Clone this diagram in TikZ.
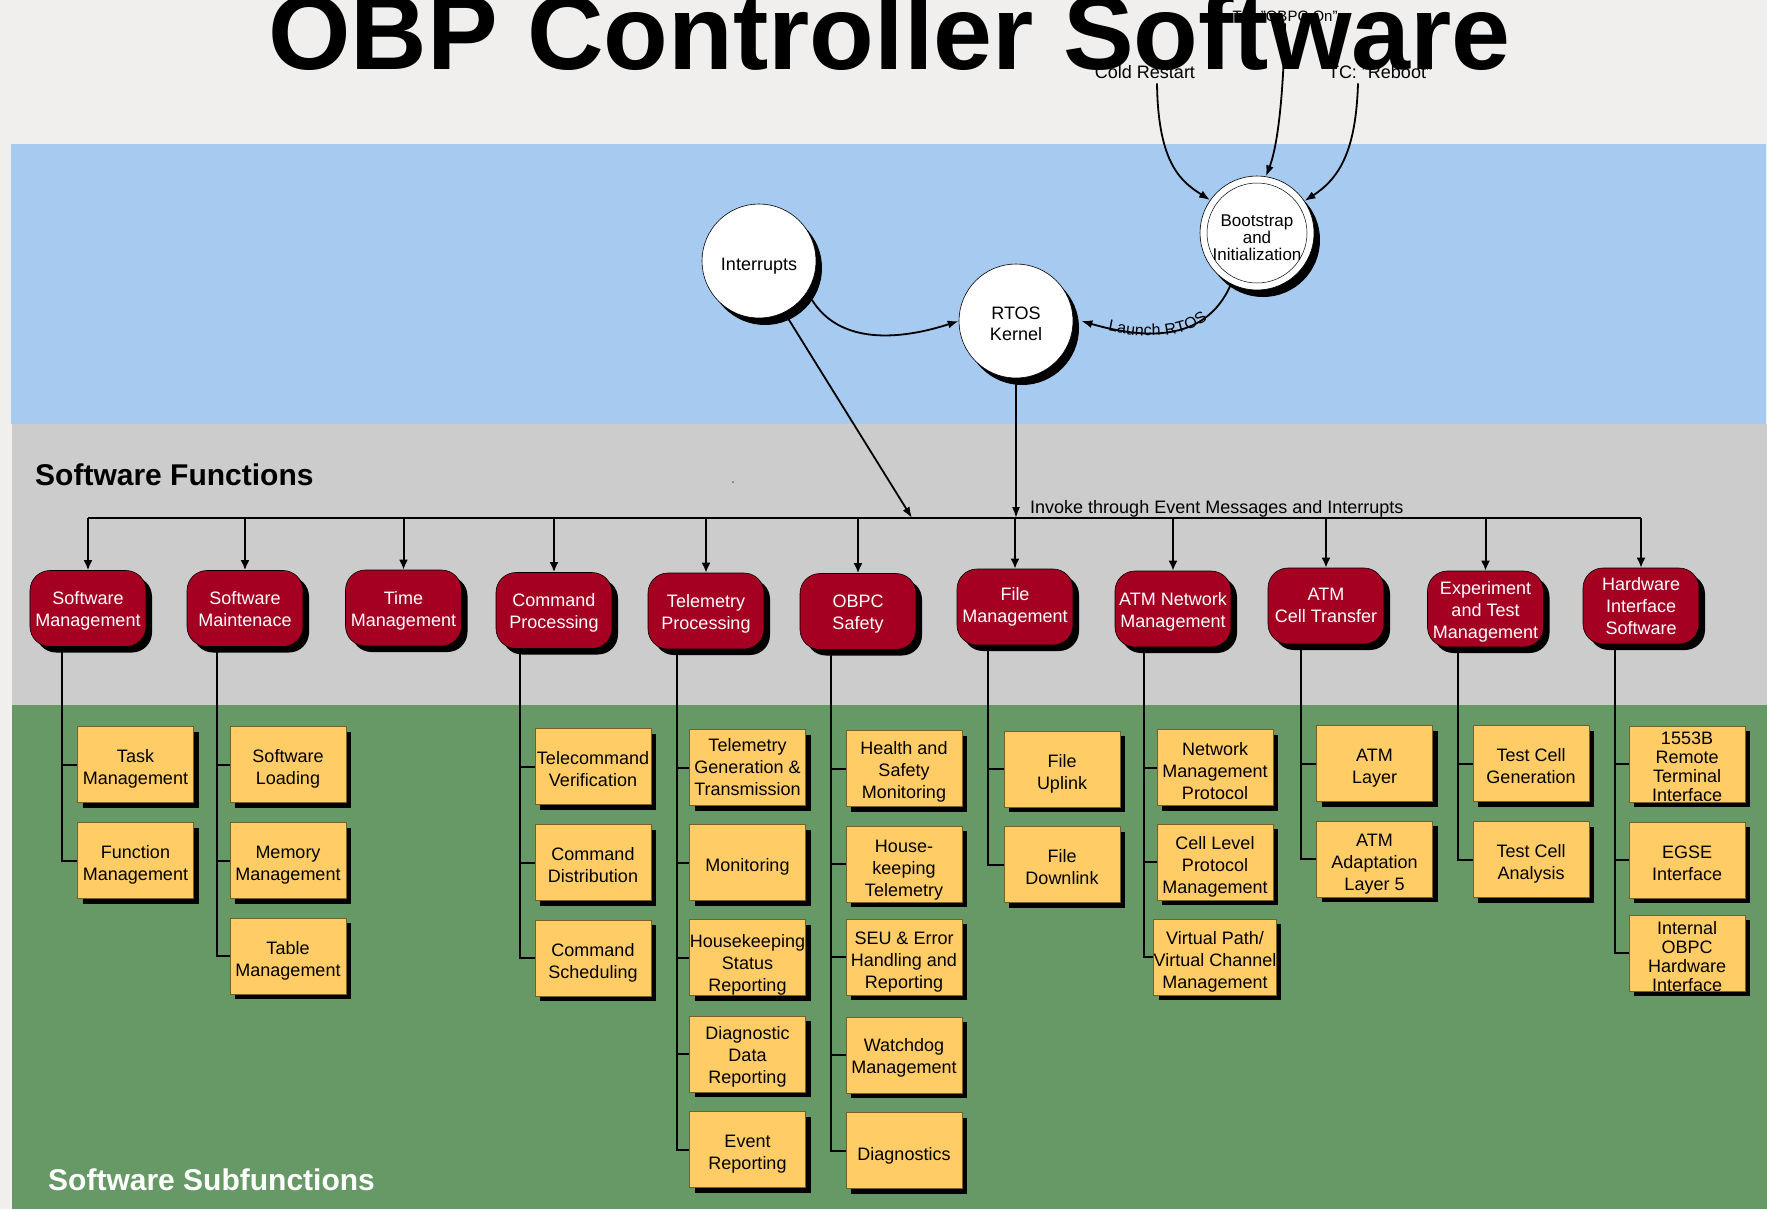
\documentclass[tikz,border=0pt]{standalone}
\usepackage{fontspec}
\setmainfont{Liberation Sans}
\usetikzlibrary{arrows.meta,shadows,decorations.text,calc}

\definecolor{pagebg}{RGB}{240,239,237}
\definecolor{skyband}{RGB}{166,202,240}
\definecolor{funcband}{RGB}{204,204,204}
\definecolor{subband}{RGB}{102,153,102}
\definecolor{funcred}{RGB}{165,0,33}
\definecolor{subyellow}{RGB}{255,204,102}
\definecolor{subedge}{RGB}{120,95,40}

% multi-line box text, lowered a little below the box centre
\newcommand\bxt[2][-9bp]{\raisebox{#1}[0pt][0pt]{\begin{tabular}{@{}c@{}}#2\end{tabular}}}

\tikzset{
  fnt/.style={font=\fontsize{18bp}{22bp}\selectfont},
  fnttight/.style={font=\fontsize{18bp}{18.7bp}\selectfont},
  sect/.style={anchor=base west, inner sep=0pt, font=\fontsize{30bp}{30bp}\selectfont\bfseries},
  funcbox/.style={rectangle, rounded corners=20bp, minimum width=116bp, minimum height=76bp,
    inner sep=0pt, fill=funcred, draw=black, line width=0.6bp, text=white, fnt,
    drop shadow={shadow xshift=6bp, shadow yshift=-6bp, opacity=1, fill=black}},
  subbox/.style={rectangle, minimum width=116bp, minimum height=76bp, inner sep=0pt,
    fill=subyellow, draw=subedge, line width=0.8bp, text=black, fnt,
    drop shadow={shadow xshift=5bp, shadow yshift=-5bp, opacity=1, fill=black}},
  proc/.style={circle, minimum size=114bp, inner sep=0pt, fill=white, draw=black,
    line width=0.6bp, fnt,
    drop shadow={shadow xshift=6bp, shadow yshift=-7bp, opacity=1, fill=black}},
  arr/.style={line width=1.8bp, -{Latex[length=11bp,width=8bp]}},
  drop/.style={line width=2bp, -{Latex[length=10bp,width=9bp]}},
  link/.style={line width=2bp},
  trig/.style={fnt, anchor=base, inner sep=0pt},
}

\begin{document}
\begin{tikzpicture}[x=1bp,y=-1bp]
\useasboundingbox (0,0) rectangle (1767,1209);
\clip (0,0) rectangle (1767,1209);

% background bands
\fill[pagebg] (0,0) rectangle (1767,1209);
\fill[skyband] (11,144) rectangle (1766,424);
\fill[funcband] (12,424) rectangle (1767,705);
\fill[subband] (12,705) rectangle (1767,1209);
\fill[black!60] (733,482) circle[radius=1bp];

\node[sect] (funclabel) at (35,485) {Software Functions};
\node[sect, text=white] (sublabel) at (48,1190) {Software Subfunctions};

% start-up triggers
\node[trig] (cold) at (1145,78) {Cold Restart};
\node[trig, font=\fontsize{15bp}{15bp}\selectfont] (obpcon) at (1285,21) {TC: "OBPC On"};
\node[trig] (reboot) at (1380,78) {TC: "Reboot"};

% title
\node[anchor=base, inner sep=0pt, font=\fontsize{106bp}{106bp}\selectfont\bfseries] (title)
  at (889.5,69) {OBP Controller Software};

% processes
\node[proc] (intr) at (759,261) {\bxt{Interrupts}};
\node[proc, font=\fontsize{18bp}{21bp}\selectfont] (rtos) at (1016,321) {\bxt{RTOS\\Kernel}};
\node[proc, font=\fontsize{17bp}{15bp}\selectfont] (boot) at (1257,233) {\bxt[-11bp]{Bootstrap\\and\\Initialization}};
\draw[line width=0.5bp] (boot.center) circle[radius=50bp];

\draw[arr] ([shift={(12bp,-5bp)}]cold.south) .. controls (1158,165) and (1182,182) .. (boot.145);
\draw[arr] ([yshift=-2bp]obpcon.south) .. controls (1283,110) and (1276,150) .. (boot.81);
\draw[arr] ([shift={(-22bp,-5bp)}]reboot.south) .. controls (1356,150) and (1340,178) .. (boot.34);

\draw[arr] (boot.-117) .. controls (1205,345) and (1140,338) .. ([xshift=8bp]rtos.east);
\path[decorate, decoration={text along path,
    text={|\fontsize{16bp}{16bp}\selectfont|Launch RTOS},
    text align={left indent=28bp}, raise=-3bp}]
  ([xshift=8bp]rtos.east) .. controls (1140,338) and (1205,345) .. (boot.-117);

\draw[arr] ([shift={(6bp,-6bp)}]intr.-35) .. controls (840,345) and (900,340) .. (rtos.west);

% software functions
\node[funcbox] (F1) at (88,608.5) {\bxt[-7bp]{Software\\Management}};
\node[funcbox] (F2) at (245,608.5) {\bxt[-7bp]{Software\\Maintenace}};
\node[funcbox] (F3) at (403.5,608) {\bxt[-7bp]{Time\\Management}};
\node[funcbox] (F4) at (554,610.5) {\bxt[-7bp]{Command\\Processing}};
\node[funcbox] (F5) at (706,611) {\bxt[-7bp]{Telemetry\\Processing}};
\node[funcbox] (F6) at (858,611.5) {\bxt[-7bp]{OBPC\\Safety}};
\node[funcbox] (F7) at (1015,607) {\bxt[-4bp]{File\\Management}};
\node[funcbox] (F8) at (1173,609) {\bxt[-7bp]{ATM Network\\Management}};
\node[funcbox] (F9) at (1326,606) {\bxt[-5bp]{ATM\\Cell Transfer}};
\node[funcbox] (F10) at (1485.5,609) {\bxt[-7bp]{Experiment\\and Test\\Management}};
\node[funcbox] (F11) at (1641,606) {\bxt[-6bp]{Hardware\\Interface\\Software}};

% event bus
\coordinate (busI) at (912,518);
\draw[arr] ([shift={(4bp,-6bp)}]intr.-64) -- (busI);
\draw[arr] ([yshift=-6bp]rtos.south) -- (rtos.south |- busI);
\draw[link] (F1.north |- busI) -- (F11.north |- busI);
\foreach \f in {F1,F2,F3,F4,F5,F6,F7,F8,F9,F10,F11}
  \draw[drop] (\f.north |- busI) -- (\f.north);
\node[fnt, anchor=base west, inner sep=0pt] (invoke) at (1030,513)
  {Invoke through Event Messages and Interrupts};

% software subfunctions
\node[subbox] (S1a) at (135.5,764.5) {\bxt{Task\\Management}};
\node[subbox] (S1b) at (135.5,860.5) {\bxt{Function\\Management}};

\node[subbox] (S2a) at (288,764.5) {\bxt{Software\\Loading}};
\node[subbox] (S2b) at (288,860.5) {\bxt{Memory\\Management}};
\node[subbox] (S2c) at (288,956) {\bxt{Table\\Management}};

\node[subbox] (S4a) at (593,766.5) {\bxt{Telecommand\\Verification}};
\node[subbox] (S4b) at (593,862.5) {\bxt{Command\\Distribution}};
\node[subbox] (S4c) at (593,958) {\bxt{Command\\Scheduling}};

\node[subbox] (S5a) at (747.5,767.5) {\bxt[-6bp]{Telemetry\\Generation \&\\Transmission}};
\node[subbox] (S5b) at (747.5,862.5) {\bxt{Monitoring}};
\node[subbox] (S5c) at (747.5,957.5) {\bxt[-12bp]{Housekeeping\\Status\\Reporting}};
\node[subbox] (S5d) at (747.5,1054) {\bxt[-7.5bp]{Diagnostic\\Data\\Reporting}};
\node[subbox] (S5e) at (747.5,1149.5) {\bxt{Event\\Reporting}};

\node[subbox] (S6a) at (904,768.5) {\bxt[-8bp]{Health and\\Safety\\Monitoring}};
\node[subbox] (S6b) at (904,864) {\bxt[-10.5bp]{House-\\keeping\\Telemetry}};
\node[subbox] (S6c) at (904,957) {\bxt{SEU \& Error\\Handling and\\Reporting}};
\node[subbox] (S6d) at (904,1055) {\bxt[-7.5bp]{Watchdog\\Management}};
\node[subbox] (S6e) at (904,1150.5) {\bxt[-10bp]{Diagnostics}};

\node[subbox] (S7a) at (1062,769) {\bxt{File\\Uplink}};
\node[subbox] (S7b) at (1062,864.5) {\bxt{File\\Downlink}};

\node[subbox] (S8a) at (1215,767.5) {\bxt[-10bp]{Network\\Management\\Protocol}};
\node[subbox] (S8b) at (1215,862) {\bxt{Cell Level\\Protocol\\Management}};
\node[subbox] (S8c) at (1215,957) {\bxt[-9.5bp]{Virtual Path/\\Virtual Channel\\Management}};

\node[subbox] (S9a) at (1374.5,763.5) {\bxt{ATM\\Layer}};
\node[subbox] (S9b) at (1374.5,859) {\bxt{ATM\\Adaptation\\Layer 5}};

\node[subbox] (S10a) at (1531,763.5) {\bxt{Test Cell\\Generation}};
\node[subbox] (S10b) at (1531,859.5) {\bxt{Test Cell\\Analysis}};

\node[subbox, fnttight] (S11a) at (1687,764) {\bxt[-9.5bp]{1553B\\Remote\\Terminal\\Interface}};
\node[subbox] (S11b) at (1687,860) {\bxt{EGSE\\Interface}};
\node[subbox, fnttight] (S11c) at (1687,953) {\bxt[-10.5bp]{Internal\\OBPC\\Hardware\\Interface}};

% tree spines
\foreach \s in {S1a,S1b} \draw[link] ([xshift=32bp]F1.south west) |- (\s.west);
\foreach \s in {S2a,S2b,S2c} \draw[link] ([xshift=30bp]F2.south west) |- (\s.west);
\foreach \s in {S4a,S4b,S4c} \draw[link] ([xshift=24bp]F4.south west) |- (\s.west);
\foreach \s in {S5a,S5b,S5c,S5d,S5e} \draw[link] ([xshift=29bp]F5.south west) |- (\s.west);
\foreach \s in {S6a,S6b,S6c,S6d,S6e} \draw[link] ([xshift=31bp]F6.south west) |- (\s.west);
\foreach \s in {S7a,S7b} \draw[link] ([xshift=31bp]F7.south west) |- (\s.west);
\foreach \s in {S8a,S8b,S8c} \draw[link] ([xshift=29bp]F8.south west) |- (\s.west);
\foreach \s in {S9a,S9b} \draw[link] ([xshift=33bp]F9.south west) |- (\s.west);
\foreach \s in {S10a,S10b} \draw[link] ([xshift=30.5bp]F10.south west) |- (\s.west);
\foreach \s in {S11a,S11b,S11c} \draw[link] ([xshift=32bp]F11.south west) |- (\s.west);
\end{tikzpicture}
\end{document}
